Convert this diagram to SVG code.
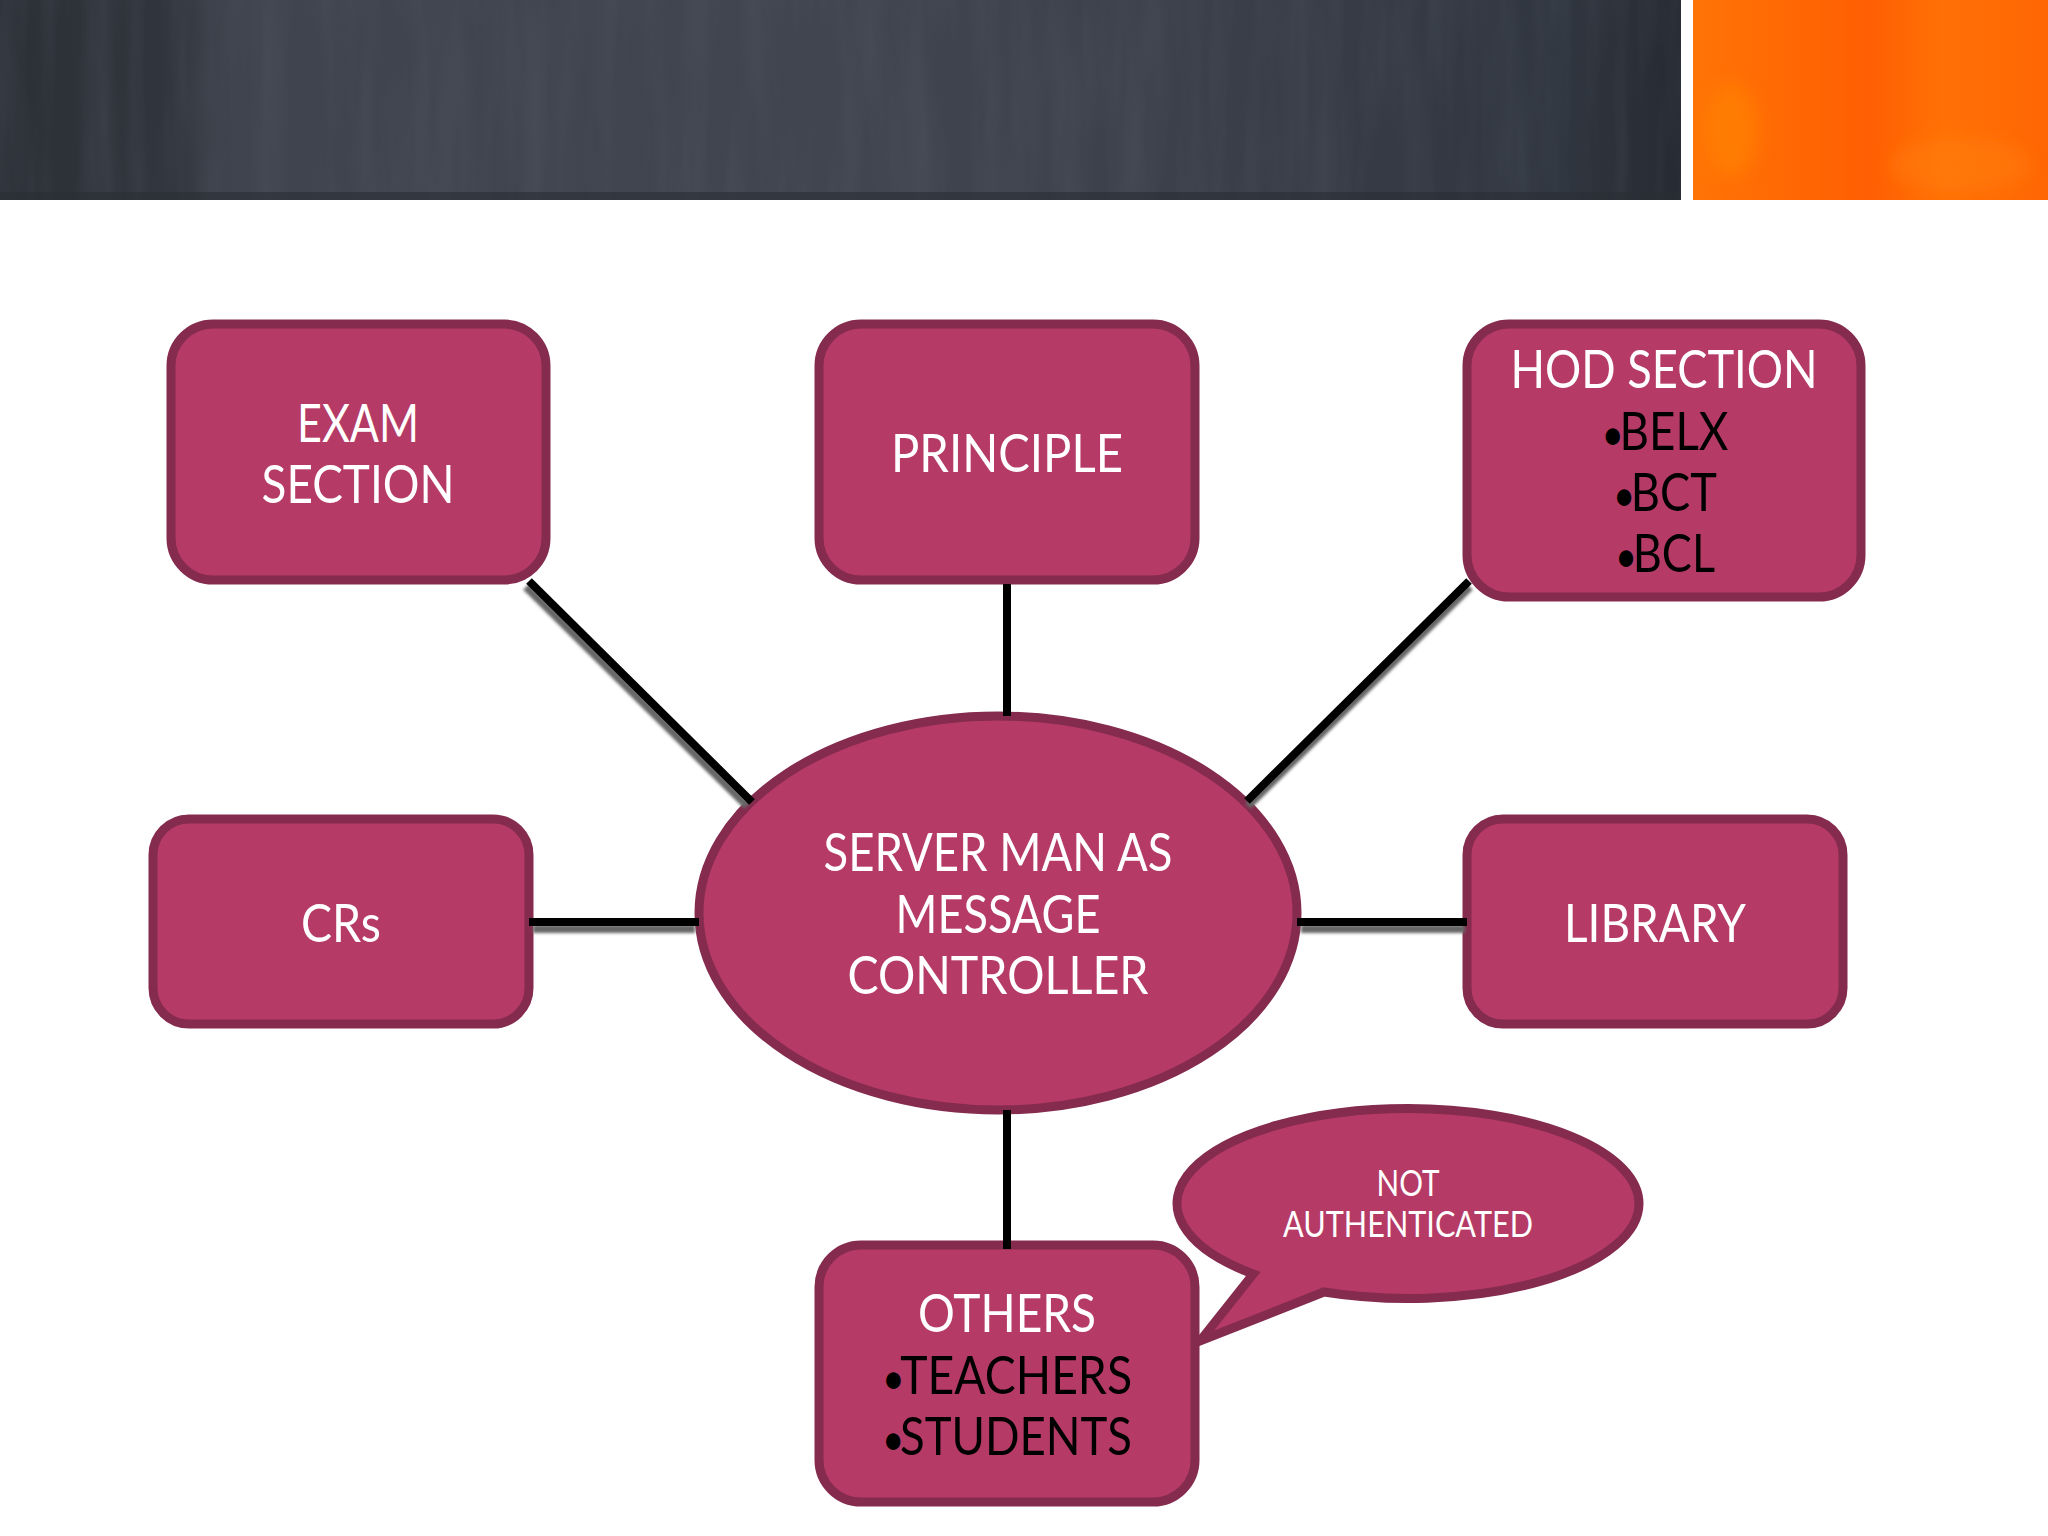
<svg xmlns="http://www.w3.org/2000/svg" width="2048" height="1536" viewBox="0 0 2048 1536">
<style>
.n{fill:#b53b66;stroke:#852b4d;stroke-width:9}
.t{font-family:"Lato","Noto Sans",sans-serif;font-size:52px;fill:#fff;text-anchor:middle}
.k{fill:#000}
.b{font-size:44px;letter-spacing:-5px}
.s{font-size:37px}
.c{stroke:#000;stroke-width:8;fill:none}
</style>
<defs>
<linearGradient id="dark" x1="0" x2="1" y1="0" y2="0">
<stop offset="0" stop-color="#2b3037"/><stop offset="0.1" stop-color="#31363e"/><stop offset="0.14" stop-color="#3f444e"/><stop offset="0.5" stop-color="#41454f"/><stop offset="0.7" stop-color="#3b404a"/><stop offset="0.93" stop-color="#30363f"/><stop offset="1" stop-color="#262b33"/>
</linearGradient>
<linearGradient id="orange" x1="0" x2="1" y1="0" y2="0">
<stop offset="0" stop-color="#ff7406"/><stop offset="0.12" stop-color="#ff6e05"/><stop offset="0.5" stop-color="#ff5f02"/><stop offset="0.7" stop-color="#ff7006"/><stop offset="1" stop-color="#ff6604"/>
</linearGradient>
<filter id="streak" x="0" y="0" width="1" height="1">
<feTurbulence type="fractalNoise" baseFrequency="0.035 0.004" numOctaves="3" seed="4"/>
<feColorMatrix type="matrix" values="0 0 0 0 0.1  0 0 0 0 0.12  0 0 0 0 0.15  1.6 0 0 0 -0.55"/>
</filter>
<filter id="soft" x="-30%" y="-30%" width="160%" height="160%"><feGaussianBlur stdDeviation="9"/></filter>
<filter id="sh" x="-20%" y="-20%" width="140%" height="140%" filterUnits="userSpaceOnUse" primitiveUnits="userSpaceOnUse">
<feGaussianBlur stdDeviation="1.4"/>
</filter>
<clipPath id="oc"><rect x="1693" y="0" width="355" height="200"/></clipPath>
</defs>
<rect width="2048" height="1536" fill="#fff"/>
<g id="header">
<rect x="0" y="0" width="1681" height="200" fill="url(#dark)"/>
<rect x="0" y="0" width="1681" height="200" filter="url(#streak)" opacity="0.3"/>
<rect x="0" y="192" width="1681" height="8" fill="#2a2e36" opacity="0.6"/>
<rect x="1693" y="0" width="355" height="200" fill="url(#orange)"/>
<g clip-path="url(#oc)">
<ellipse cx="1732" cy="130" rx="26" ry="48" fill="#ff8505" opacity="0.6" filter="url(#soft)"/>
<ellipse cx="1960" cy="165" rx="70" ry="28" fill="#ff8208" opacity="0.45" filter="url(#soft)"/>
</g>
</g>
<g id="exam"><rect class="n" x="171" y="324" width="375" height="256" rx="42"/>
<text class="t" x="358" y="442" textLength="122" lengthAdjust="spacingAndGlyphs">EXAM</text>
<text class="t" x="358" y="503" textLength="193" lengthAdjust="spacingAndGlyphs">SECTION</text></g>
<g id="principle"><rect class="n" x="819" y="324" width="376" height="256" rx="42"/>
<text class="t" x="1007" y="472" textLength="232" lengthAdjust="spacingAndGlyphs">PRINCIPLE</text></g>
<g id="hod"><rect class="n" x="1467" y="324" width="394" height="273" rx="42"/>
<text class="t" x="1664" y="388" textLength="307" lengthAdjust="spacingAndGlyphs">HOD SECTION</text>
<text class="t k" x="1665" y="450" textLength="127" lengthAdjust="spacingAndGlyphs"><tspan class="b">•</tspan>BELX</text>
<text class="t k" x="1665" y="511" textLength="104" lengthAdjust="spacingAndGlyphs"><tspan class="b">•</tspan>BCT</text>
<text class="t k" x="1665" y="572" textLength="100" lengthAdjust="spacingAndGlyphs"><tspan class="b">•</tspan>BCL</text></g>
<g id="crs"><rect class="n" x="153" y="819" width="376" height="205" rx="36"/>
<text class="t" x="341" y="942" textLength="80" lengthAdjust="spacingAndGlyphs">CRs</text></g>
<g id="library"><rect class="n" x="1467" y="819" width="376" height="205" rx="36"/>
<text class="t" x="1655" y="942" textLength="182" lengthAdjust="spacingAndGlyphs">LIBRARY</text></g>
<g id="server"><ellipse class="n" cx="998" cy="913" rx="299" ry="197"/>
<text class="t" x="998" y="871" textLength="349" lengthAdjust="spacingAndGlyphs">SERVER MAN AS</text>
<text class="t" x="998" y="933" textLength="205" lengthAdjust="spacingAndGlyphs">MESSAGE</text>
<text class="t" x="998" y="994" textLength="301" lengthAdjust="spacingAndGlyphs">CONTROLLER</text></g>
<g id="callout"><path class="n" d="M1200,1341 L1253.2,1274 A231,95 0 0 1 1408,1108.5 A231,95 0 0 1 1639,1203.5 A231,95 0 0 1 1324,1292 Z"/>
<text class="t s" x="1408" y="1196" textLength="63" lengthAdjust="spacingAndGlyphs">NOT</text>
<text class="t s" x="1408" y="1237" textLength="250" lengthAdjust="spacingAndGlyphs">AUTHENTICATED</text></g>
<g id="others"><rect class="n" x="819" y="1245" width="376" height="257" rx="42"/>
<text class="t" x="1007" y="1332" textLength="178" lengthAdjust="spacingAndGlyphs">OTHERS</text>
<text class="t k" x="1007" y="1394" textLength="250" lengthAdjust="spacingAndGlyphs"><tspan class="b">•</tspan>TEACHERS</text>
<text class="t k" x="1007" y="1455" textLength="250" lengthAdjust="spacingAndGlyphs"><tspan class="b">•</tspan>STUDENTS</text></g>
<g id="connectors">
<g stroke="#666" stroke-width="8" fill="none" filter="url(#sh)">
<path d="M526,587 L747,806"/><path d="M1470,587 L1248,806"/><path d="M533,929 H695"/><path d="M1301,929 H1465"/>
</g>
<path class="c" d="M529,581 L752,802"/>
<path class="c" d="M1007,584 V716"/>
<path class="c" d="M1469,581 L1247,801"/>
<path class="c" d="M529,922 H699"/>
<path class="c" d="M1297,922 H1467"/>
<path class="c" d="M1007,1110 V1249"/>
</g>
</svg>
